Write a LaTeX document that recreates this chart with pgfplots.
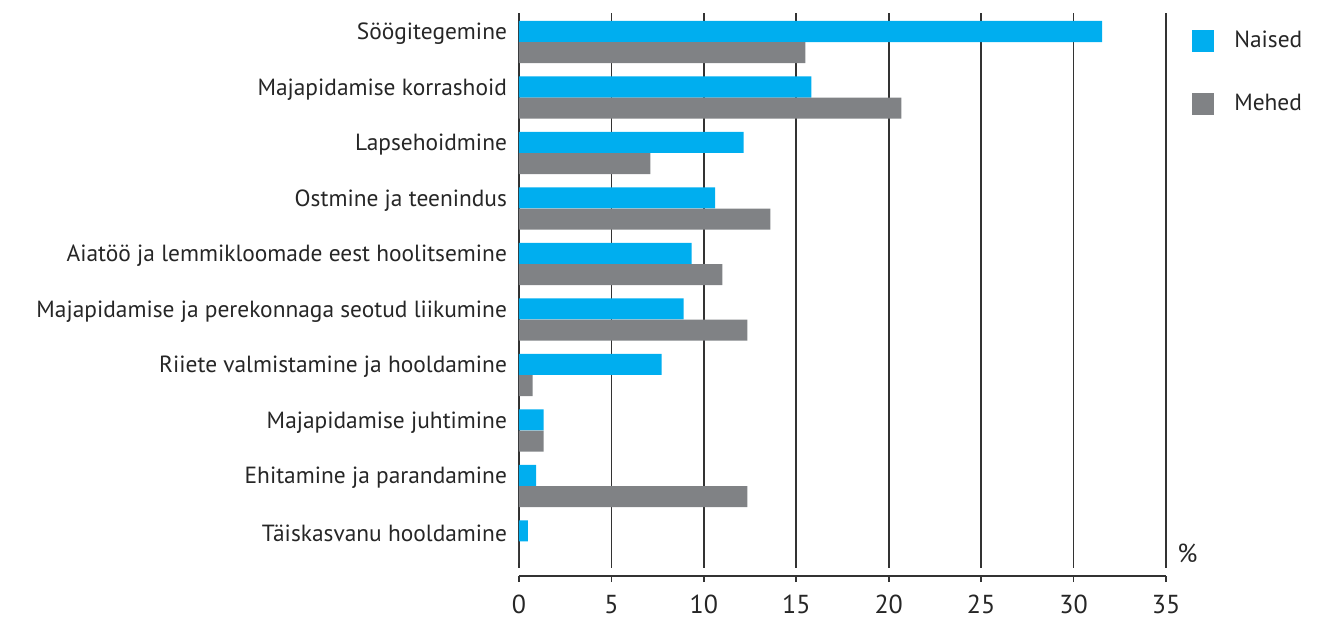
\documentclass[border=0pt]{standalone}
\usepackage{pgfplots}
\pgfplotsset{compat=1.18}
\usepackage{fontspec}
\setmainfont{PT Sans}
\definecolor{nblue}{HTML}{00AEEF}
\definecolor{mgrey}{HTML}{808285}
\definecolor{gridc}{HTML}{333333}
\begin{document}
\begin{tikzpicture}
\begin{axis}[
  scale only axis,
  width=323.5pt, height=277.5pt,
  xbar, bar width=0.379,
  xmin=0, xmax=35,
  ymin=-0.523, ymax=9.478,
  y dir=reverse,
  axis x line*=bottom,
  axis x line shift=4pt,
  axis y line*=left,
  y axis line style={draw=none},
  ytick style={draw=none},
  xtick={0,5,...,35},
  xtick align=outside,
  major tick length=3pt,
  x axis line style={gridc, line width=0.8pt, -},
  xtick style={gridc, line width=0.8pt},
  xmajorgrids,
  major grid style={gridc, line width=0.8pt},
  ytick={0,...,9},
  yticklabels={Söögitegemine, Majapidamise korrashoid, Lapsehoidmine, Ostmine ja teenindus, Aiatöö ja lemmikloomade eest hoolitsemine, Majapidamise ja perekonnaga seotud liikumine, Riiete valmistamine ja hooldamine, Majapidamise juhtimine, Ehitamine ja parandamine, Täiskasvanu hooldamine},
  yticklabel style={font=\fontsize{11.7pt}{13pt}\selectfont, yshift=4.1pt, xshift=0.5pt, text=black!85},
  xticklabel style={font=\fontsize{13pt}{15pt}\selectfont, text=black!85, yshift=-3pt},
  /pgf/number format/assume math mode=true,
  clip=false,
  legend style={at={(axis description cs:1.040,0.971)}, anchor=north west, draw=none, fill=none,
    font=\fontsize{11.7pt}{13pt}\selectfont, row sep=20.5pt, column sep=10pt, inner sep=0pt,
    nodes={inner sep=0pt, text=black!85}},
  legend cell align=left,
  legend image code/.code={\fill[#1,draw=none] (0pt,-5.5pt) rectangle (11pt,5.5pt);},
]
\addplot[fill=nblue, draw=none, bar shift=-0.19] coordinates {
 (31.55,0) (15.81,1) (12.15,2) (10.61,3) (9.34,4) (8.90,5) (7.71,6) (1.33,7) (0.92,8) (0.48,9)};
\addplot[fill=mgrey, draw=none, bar shift=0.19] coordinates {
 (15.49,0) (20.69,1) (7.11,2) (13.60,3) (11.00,4) (12.36,5) (0.74,6) (1.33,7) (12.36,8) (0,9)};
\legend{Naised, Mehed}
\node[font=\fontsize{13pt}{15pt}\selectfont, text=black!85] at (axis description cs:1.033,0.026) {\%};
\coordinate (bl) at (axis description cs:0,0);
\end{axis}
\path (bl) ++(-259.5pt,-25.5pt) rectangle ++(668pt,309.5pt);
\end{tikzpicture}
\end{document}
